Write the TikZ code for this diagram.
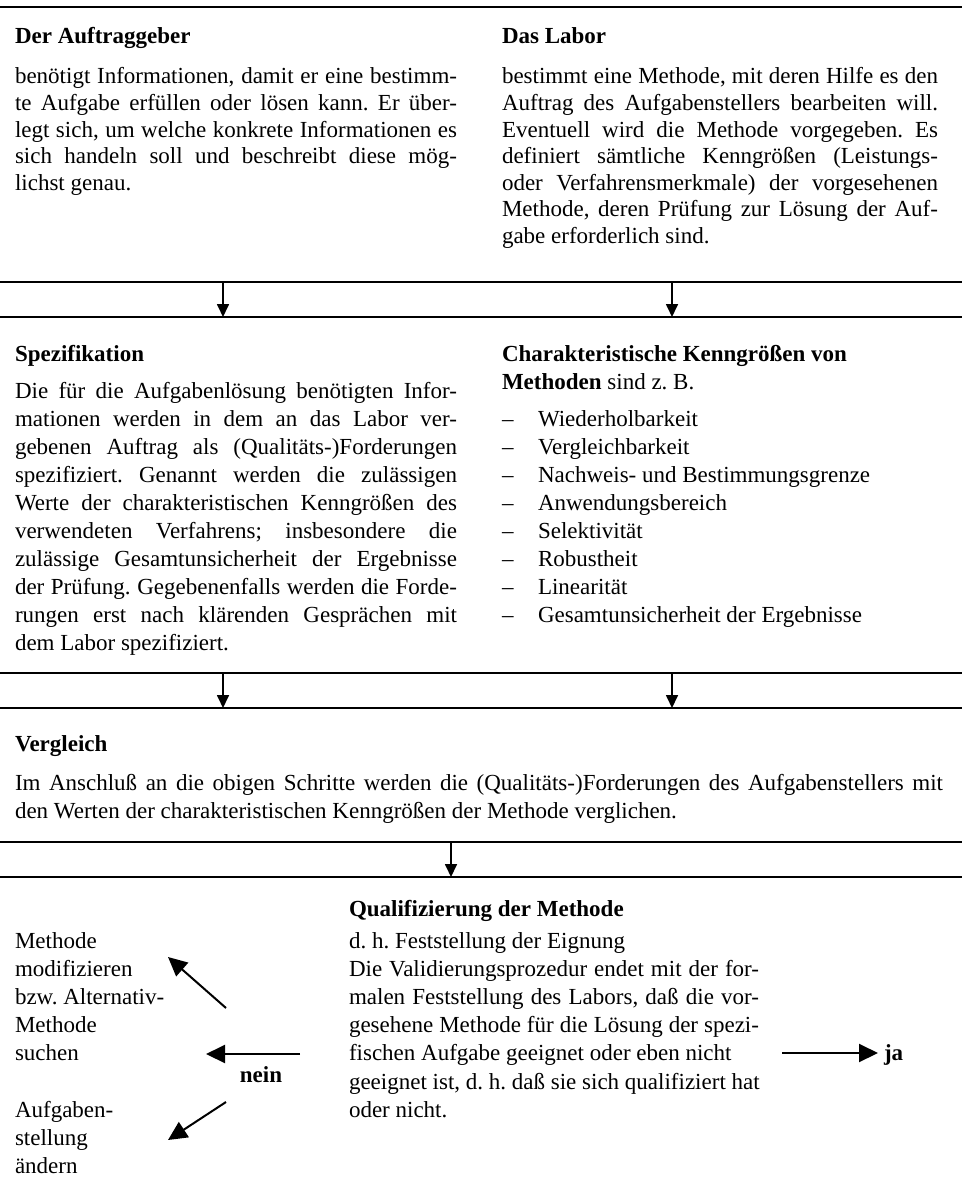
\documentclass[tikz,border=0pt]{standalone}
\usepackage{fontspec}
\setmainfont{Liberation Serif}
\usetikzlibrary{arrows.meta}
\frenchspacing
\newcommand\jl[2]{\makebox[#1][s]{#2}}
\newcommand\txtline[4]{\node[txt] (#1) at (#2,-#3) {#4};}
\begin{document}
\begin{tikzpicture}[x=1pt,y=1pt,
  txt/.style={inner sep=0pt,outer sep=0pt,anchor=base west,font=\fontsize{23}{28}\selectfont\frenchspacing},
  hd/.style={txt,font=\fontsize{23}{28}\selectfont\bfseries},
  rulel/.style={line width=1.7pt},
  varrow/.style={line width=1.7pt,-{Triangle[length=13pt,width=12pt]}},
  barrow/.style={line width=2pt,-{Triangle[length=19pt,width=18pt]}}]
\fill[white] (0,0) rectangle (962,-1204);
\useasboundingbox (0,0) rectangle (962,-1204);

% rules
\draw[rulel] (0,-7) -- (962,-7);
\draw[rulel] (0,-282) -- (962,-282);
\draw[rulel] (0,-317) -- (962,-317);
\draw[rulel] (0,-673) -- (962,-673);
\draw[rulel] (0,-708) -- (962,-708);
\draw[rulel] (0,-842) -- (962,-842);
\draw[rulel] (0,-877) -- (962,-877);

% section 1
\node[hd] (h1) at (15,-44) {Der Auftraggeber};
\node[hd] (h2) at (502,-44) {Das Labor};
\txtline{a1}{15}{84}{\jl{442pt}{benötigt Informationen, damit er eine bestimm-}}
\txtline{a2}{15}{110.5}{\jl{442pt}{te Aufgabe erfüllen oder lösen kann. Er über-}}
\txtline{a3}{15}{137}{\jl{442pt}{legt sich, um welche konkrete Informationen es}}
\txtline{a4}{15}{163.5}{\jl{442pt}{sich handeln soll und beschreibt diese mög-}}
\txtline{a5}{15}{190}{lichst genau.}
\txtline{b1}{502}{84}{\jl{436pt}{bestimmt eine Methode, mit deren Hilfe es den}}
\txtline{b2}{502}{110.5}{\jl{436pt}{Auftrag des Aufgabenstellers bearbeiten will.}}
\txtline{b3}{502}{137}{\jl{436pt}{Eventuell wird die Methode vorgegeben. Es}}
\txtline{b4}{502}{163.5}{\jl{436pt}{definiert sämtliche Kenngrößen (Leistungs-}}
\txtline{b5}{502}{190}{\jl{436pt}{oder Verfahrensmerkmale) der vorgesehenen}}
\txtline{b6}{502}{216.5}{\jl{436pt}{Methode, deren Prüfung zur Lösung der Auf-}}
\txtline{b7}{502}{243}{gabe erforderlich sind.}

% arrows 1
\coordinate (p1a) at (223,-282); \coordinate (p1b) at (223,-317);
\coordinate (q1a) at (672,-282); \coordinate (q1b) at (672,-317);
\draw[varrow] (p1a) -- (p1b);
\draw[varrow] (q1a) -- (q1b);

% section 2
\node[hd] (h3) at (15,-361) {Spezifikation};
\node[hd] (h4) at (502,-361) {Charakteristische Kenngrößen von};
\txtline{h4b}{502}{389}{\textbf{Methoden} sind z. B.}
\txtline{c1}{15}{398}{\jl{442pt}{Die für die Aufgabenlösung benötigten Infor-}}
\txtline{c2}{15}{426}{\jl{442pt}{mationen werden in dem an das Labor ver-}}
\txtline{c3}{15}{454}{\jl{442pt}{gebenen Auftrag als (Qualitäts-)Forderungen}}
\txtline{c4}{15}{482}{\jl{442pt}{spezifiziert. Genannt werden die zulässigen}}
\txtline{c5}{15}{510}{\jl{442pt}{Werte der charakteristischen Kenngrößen des}}
\txtline{c6}{15}{538}{\jl{442pt}{verwendeten Verfahrens; insbesondere die}}
\txtline{c7}{15}{566}{\jl{442pt}{zulässige Gesamtunsicherheit der Ergebnisse}}
\txtline{c8}{15}{594}{\jl{442pt}{der Prüfung. Gegebenenfalls werden die Forde-}}
\txtline{c9}{15}{622}{\jl{442pt}{rungen erst nach klärenden Gesprächen mit}}
\txtline{c10}{15}{650}{dem Labor spezifiziert.}
\foreach \t [count=\i from 0] in {Wiederholbarkeit,Vergleichbarkeit,Nachweis- und Bestimmungsgrenze,Anwendungsbereich,Selektivität,Robustheit,Linearität,Gesamtunsicherheit der Ergebnisse}{
  \node[txt] (dash\i) at (502,{-426-28*\i}) {–};
  \node[txt] (item\i) at (538,{-426-28*\i}) {\t};
}

% arrows 2
\coordinate (p2a) at (223,-673); \coordinate (p2b) at (223,-708);
\coordinate (q2a) at (672,-673); \coordinate (q2b) at (672,-708);
\draw[varrow] (p2a) -- (p2b);
\draw[varrow] (q2a) -- (q2b);

% section 3
\node[hd] (h5) at (15,-751) {Vergleich};
\txtline{v1}{15}{790}{\jl{928pt}{Im Anschluß an die obigen Schritte werden die (Qualitäts-)Forderungen des Aufgabenstellers mit}}
\txtline{v2}{15}{818}{den Werten der charakteristischen Kenngrößen der Methode verglichen.}

% arrow 3
\coordinate (m3a) at (451,-842); \coordinate (m3b) at (451,-877);
\draw[varrow] (m3a) -- (m3b);

% section 4
\node[hd] (h6) at (349,-916) {Qualifizierung der Methode};
\txtline{r1}{349}{948}{d. h. Feststellung der Eignung}
\txtline{r2}{349}{976}{\jl{410pt}{Die Validierungsprozedur endet mit der for-}}
\txtline{r3}{349}{1004}{\jl{410pt}{malen Feststellung des Labors, daß die vor-}}
\txtline{r4}{349}{1032}{\jl{410pt}{gesehene Methode für die Lösung der spezi-}}
\txtline{r5}{349}{1060}{fischen Aufgabe geeignet oder eben nicht}
\txtline{r6}{349}{1089}{geeignet ist, d. h. daß sie sich qualifiziert hat}
\txtline{r7}{349}{1117}{oder nicht.}
\node[hd] (ja) at (884,-1060) {ja};

\txtline{l1}{15}{948}{Methode}
\txtline{l2}{15}{976}{modifizieren}
\txtline{l3}{15}{1004}{bzw. Alternativ-}
\txtline{l4}{15}{1032}{Methode}
\txtline{l5}{15}{1060}{suchen}
\txtline{l6}{15}{1117}{Aufgaben-}
\txtline{l7}{15}{1145}{stellung}
\txtline{l8}{15}{1173}{ändern}
\node[hd,anchor=base] (nein) at (261,-1082) {nein};

\coordinate (u1) at (226,-1008); \coordinate (u2) at (168,-957);
\coordinate (n1) at (300,-1054); \coordinate (n2) at (206,-1054);
\coordinate (d1) at (226,-1102); \coordinate (d2) at (168,-1140);
\coordinate (j1) at (782,-1053); \coordinate (j2) at (878,-1053);
\draw[barrow] (u1) -- (u2);
\draw[barrow] (n1) -- (n2);
\draw[barrow] (d1) -- (d2);
\draw[barrow] (j1) -- (j2);
\end{tikzpicture}
\end{document}
